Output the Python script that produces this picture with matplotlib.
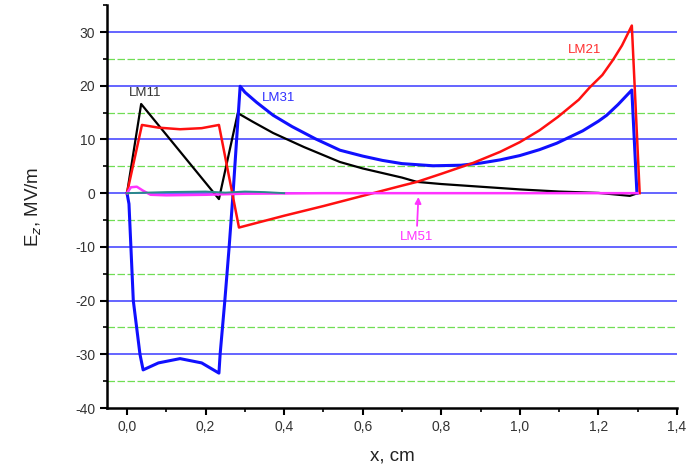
import matplotlib.pyplot as plt
from matplotlib.ticker import FuncFormatter, MultipleLocator

plt.rcParams["font.family"] = ["Liberation Sans", "DejaVu Sans"]
plt.rcParams["axes.unicode_minus"] = False

# LM11 (black)
lm11_x = [0, 0.036, 0.234, 0.282, 0.32, 0.372, 0.45, 0.542, 0.6, 0.7, 0.738, 0.8, 0.9, 1.0, 1.1, 1.2, 1.28, 1.30]
lm11_y = [0, 16.6, -1.1, 14.9, 13.3, 11.2, 8.6, 5.8, 4.6, 2.9, 2.1, 1.7, 1.2, 0.7, 0.3, 0.05, -0.5, 0]

# LM21 (red)
lm21_x = [0, 0.038, 0.08, 0.135, 0.19, 0.234, 0.285, 0.4, 0.5, 0.6, 0.7, 0.738, 0.8, 0.88, 0.95, 1.0, 1.05,
          1.097, 1.15, 1.178, 1.21, 1.237, 1.26, 1.285, 1.305]
lm21_y = [0, 12.7, 12.2, 11.9, 12.1, 12.7, -6.4, -4.2, -2.4, -0.5, 1.4, 2.1, 3.6, 5.6, 7.7, 9.5, 11.7,
          14.2, 17.4, 19.7, 22.0, 24.8, 27.5, 31.2, 0]

# LM31 (blue)
lm31_x = [0, 0.005, 0.016, 0.033, 0.041, 0.08, 0.135, 0.19, 0.234, 0.237, 0.249, 0.26, 0.27, 0.279, 0.288,
          0.30, 0.33, 0.372, 0.42, 0.48, 0.542, 0.6, 0.65, 0.7, 0.779, 0.85, 0.9, 0.95, 1.0, 1.05, 1.094,
          1.16, 1.2, 1.221, 1.25, 1.285, 1.298]
lm31_y = [0, -2, -20, -30, -32.9, -31.6, -30.8, -31.6, -33.5, -30, -20, -10, 0, 10, 19.9,
          18.8, 16.9, 14.5, 12.4, 10.1, 8.0, 6.9, 6.1, 5.5, 5.1, 5.2, 5.6, 6.2, 7.0, 8.1, 9.3,
          11.6, 13.4, 14.5, 16.5, 19.2, 0]

# LM41 (dark cyan, unlabeled, close to zero)
lm41_x = [0, 0.1, 0.2, 0.25, 0.3, 0.35, 0.4]
lm41_y = [0, 0.2, 0.3, 0.1, 0.3, 0.2, 0]

# LM51 (magenta)
lm51_x = [0, 0.01, 0.025, 0.04, 0.06, 0.1, 0.2, 0.3, 0.5, 1.0, 1.3]
lm51_y = [0, 1.1, 1.2, 0.5, -0.3, -0.4, -0.3, -0.1, 0, 0, 0]

fig = plt.figure(figsize=(6.96, 4.69), dpi=100)
ax = fig.add_axes([0.1537, 0.130, 0.819, 0.859])

for v in [30, 20, 10, 0, -10, -20, -30]:
    ax.axhline(v, color="#4a4aff", linewidth=1.2, zorder=1)
for v in [25, 15, 5, -5, -15, -25, -35]:
    ax.axhline(v, color="#70de55", linewidth=0.9, linestyle=(0, (6, 2)), zorder=1)

ax.plot(lm11_x, lm11_y, color="black", linewidth=1.6, zorder=3)
ax.plot(lm31_x, lm31_y, color="#1010ff", linewidth=2.2, zorder=4)
ax.plot(lm21_x, lm21_y, color="#ff1010", linewidth=1.8, zorder=5)
ax.plot(lm51_x, lm51_y, color="#ff33ff", linewidth=1.8, zorder=6)
ax.plot(lm41_x, lm41_y, color="#2a8a8a", linewidth=1.4, zorder=6)

ax.text(0.046, 18.6, "LM11", color="#333333", fontsize=9.5, ha="center", va="center")
ax.text(0.385, 17.7, "LM31", color="#3030ff", fontsize=9.5, ha="center", va="center")
ax.text(1.165, 26.6, "LM21", color="#ff3030", fontsize=9.5, ha="center", va="center")
ax.text(0.738, -8.2, "LM51", color="#ff33ff", fontsize=9.5, ha="center", va="center")
ax.annotate("", xy=(0.742, -0.2), xytext=(0.738, -6.6),
            arrowprops=dict(arrowstyle="-|>", color="#ff33ff", lw=1.3, mutation_scale=9))

ax.set_xlim(-0.051, 1.4)
ax.set_ylim(-40, 35)
ax.set_yticks([30, 20, 10, 0, -10, -20, -30, -40])
ax.yaxis.set_minor_locator(MultipleLocator(5))
ax.set_xticks([0.0, 0.2, 0.4, 0.6, 0.8, 1.0, 1.2, 1.4])
ax.xaxis.set_minor_locator(MultipleLocator(0.1))
ax.xaxis.set_major_formatter(FuncFormatter(lambda v, p: f"{v:.1f}".replace(".", ",")))

for side in ["top", "right"]:
    ax.spines[side].set_visible(False)
for side in ["left", "bottom"]:
    ax.spines[side].set_linewidth(1.8)
ax.tick_params(which="major", direction="out", length=5, width=1.5, labelsize=10, labelcolor="#333333")
ax.tick_params(which="minor", direction="out", length=3, width=1.2)

ax.set_xlabel("x, cm", fontsize=13.5, color="#222222", labelpad=10)
ax.set_ylabel("E$_z$, MV/m", fontsize=13.5, color="#222222", labelpad=22)

fig.savefig("out.png", dpi=100)
